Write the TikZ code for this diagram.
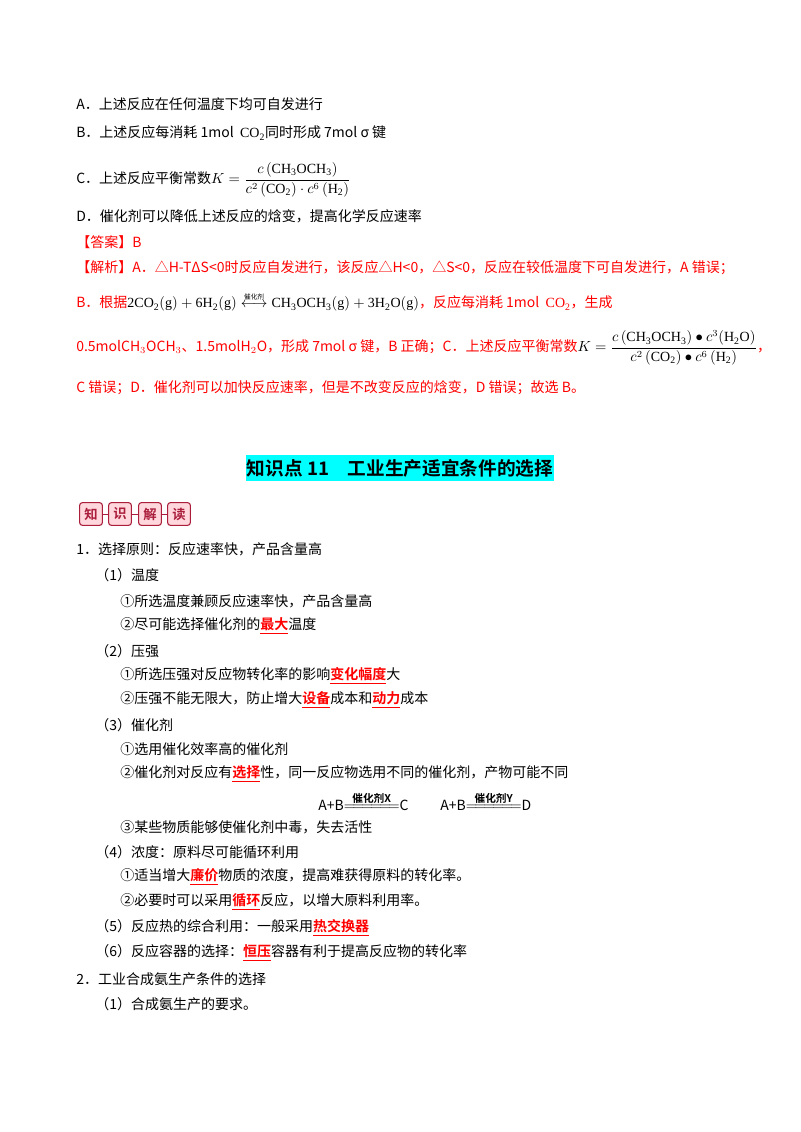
\documentclass[tikz,border=0pt]{standalone}
\usepackage{amsmath}
\usepackage{fontspec}
\setmainfont{Liberation Serif}
\newfontfamily\cjk{Noto Sans CJK SC}[BoldFont={Noto Sans CJK SC Bold}]
\definecolor{rd}{RGB}{255,0,0}
\definecolor{aq}{RGB}{0,255,255}
\definecolor{bdg}{RGB}{170,30,60}
\definecolor{bdf}{RGB}{255,215,220}
\newcommand{\kw}[1]{\underline{\textbf{#1}}}
\begin{document}
\begin{tikzpicture}[x=0.75pt,y=-0.75pt,
  t/.style={anchor=west,inner sep=0,font=\cjk\fontsize{10.5}{12}\selectfont},
  r/.style={t,text=rd},
  bd/.style={draw=bdg,fill=bdf,rounded corners=2pt,line width=0.8pt,minimum width=17pt,minimum height=17pt,inner sep=0,font=\cjk\bfseries\fontsize{10}{12}\selectfont,text=bdg}]
\useasboundingbox (0,0) rectangle (800,1132);
\node[t] (a) at (76,104) {A．上述反应在任何温度下均可自发进行};
\node[t] (b) at (76,133) {B．上述反应每消耗 1mol \ $\mathrm{CO_2}$同时形成 7mol σ 键};
\node[t] (c) at (76,180) {C．上述反应平衡常数$K=\dfrac{c\left(\mathrm{CH_3OCH_3}\right)}{c^2\left(\mathrm{CO_2}\right)\cdot c^6\left(\mathrm{H_2}\right)}$};
\node[t] (d) at (76,216) {D．催化剂可以降低上述反应的焓变，提高化学反应速率};
\node[r] (ans) at (76,242) {【答案】B};
\node[r] (j1) at (76,268) {【解析】A．△H-TΔS<0时反应自发进行，该反应△H<0，△S<0，反应在较低温度下可自发进行，A 错误；};
\node[r] (j2) at (76,302) {B．根据\textcolor{black}{$\mathrm{2CO_2(g)+6H_2(g)}\overset{\mbox{\tiny\cjk 催化剂}}{\longleftrightarrow}\mathrm{CH_3OCH_3(g)+3H_2O(g)}$}，反应每消耗 1mol \ $\mathrm{CO_2}$，生成};
\node[r] (j3) at (76,348) {0.5molCH$_3$OCH$_3$、1.5molH$_2$O，形成 7mol σ 键，B 正确；C．上述反应平衡常数\textcolor{black}{$K=\dfrac{c\left(\mathrm{CH_3OCH_3}\right)\bullet c^3(\mathrm{H_2O})}{c^2\left(\mathrm{CO_2}\right)\bullet c^6\left(\mathrm{H_2}\right)}$}，};
\node[r] (j4) at (76,388) {C 错误；D．催化剂可以加快反应速率，但是不改变反应的焓变，D 错误；故选 B。};
\node[fill=aq,inner xsep=1pt,inner ysep=3pt,font=\cjk\bfseries\fontsize{14}{16}\selectfont] (title) at (400,468) {知识点 11\quad 工业生产适宜条件的选择};
\node[bd] (k1) at (91,514) {知};
\node[bd] (k2) at (120,514) {识};
\node[bd] (k3) at (150,514) {解};
\node[bd] (k4) at (179,514) {读};
\draw[bdg,line width=0.6pt] (k1)--(k2) (k2)--(k3) (k3)--(k4);
\node[t] (l1) at (76,549) {1．选择原则：反应速率快，产品含量高};
\node[t] (l2) at (95,575) {（1）温度};
\node[t] (l3) at (120,601) {①所选温度兼顾反应速率快，产品含量高};
\node[t] (l4) at (120,626) {②尽可能选择催化剂的\textcolor{rd}{\kw{最大}}温度};
\node[t] (l5) at (95,651) {（2）压强};
\node[t] (l6) at (120,676) {①所选压强对反应物转化率的影响\textcolor{rd}{\kw{变化幅度}}大};
\node[t] (l7) at (120,700) {②压强不能无限大，防止增大\textcolor{rd}{\kw{设备}}成本和\textcolor{rd}{\kw{动力}}成本};
\node[t] (l8) at (95,725) {（3）催化剂};
\node[t] (l9) at (120,749) {①选用催化效率高的催化剂};
\node[t] (l10) at (120,774) {②催化剂对反应有\textcolor{rd}{\kw{选择}}性，同一反应物选用不同的催化剂，产物可能不同};
\node[t] (e1) at (318,801) {A+B$\overset{\mbox{\cjk\bfseries\fontsize{8}{9}\selectfont 催化剂X}}{=\!=\!=\!=\!=\!=}$C};
\node[t] (e2) at (440,801) {A+B$\overset{\mbox{\cjk\bfseries\fontsize{8}{9}\selectfont 催化剂Y}}{=\!=\!=\!=\!=\!=}$D};
\node[t] (l11) at (120,827) {③某些物质能够使催化剂中毒，失去活性};
\node[t] (l12) at (95,852) {（4）浓度：原料尽可能循环利用};
\node[t] (l13) at (120,877) {①适当增大\textcolor{rd}{\kw{廉价}}物质的浓度，提高难获得原料的转化率。};
\node[t] (l14) at (120,902) {②必要时可以采用\textcolor{rd}{\kw{循环}}反应，以增大原料利用率。};
\node[t] (l15) at (95,928) {（5）反应热的综合利用：一般采用\textcolor{rd}{\kw{热交换器}}};
\node[t] (l16) at (95,953) {（6）反应容器的选择：\textcolor{rd}{\kw{恒压}}容器有利于提高反应物的转化率};
\node[t] (l17) at (76,979) {2．工业合成氨生产条件的选择};
\node[t] (l18) at (95,1004) {（1）合成氨生产的要求。};
\end{tikzpicture}
\end{document}
